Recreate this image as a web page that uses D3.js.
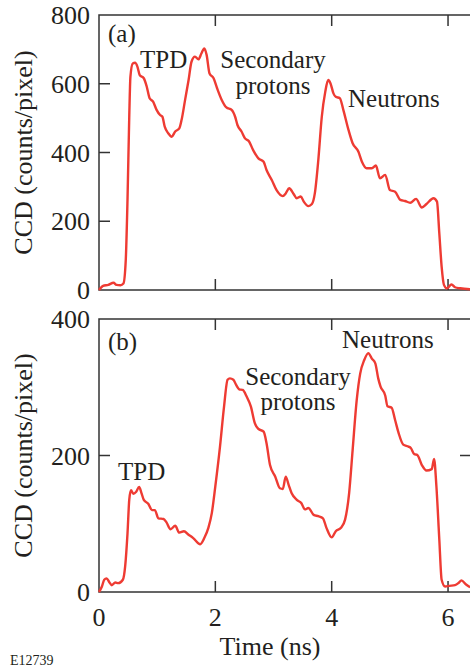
<!DOCTYPE html>
<html lang="en">
  <head>
    <meta charset="utf-8" />
    <title>CCD signal vs time</title>
    <script src="https://cdnjs.cloudflare.com/ajax/libs/d3/7.8.5/d3.min.js"></script>
    <style>
      body {
        margin: 0;
        background: #ffffff;
      }
      svg text {
        font-family: "Liberation Serif", "DejaVu Serif", "Times New Roman", Times, serif;
        fill: #231f20;
      }
      .frame {
        fill: none;
        stroke: #333;
        stroke-width: 1.5px;
      }
      .tick-line {
        stroke: #333;
        stroke-width: 1.5px;
      }
      .trace {
        fill: none;
        stroke: #ee3b33;
        stroke-width: 2.4px;
        stroke-linejoin: round;
      }
    </style>
  </head>
  <body>
    <div id="chart"></div>
    <script>
      // panel (a)
      const timeA = [0, 0.07, 0.16, 0.25, 0.3, 0.37, 0.42, 0.46, 0.49, 0.52, 0.54, 0.58, 0.62, 0.66, 0.7, 0.77, 0.82, 0.87, 0.93, 0.99, 1.05, 1.09, 1.13, 1.19, 1.25, 1.31, 1.38, 1.42, 1.48, 1.54, 1.59, 1.65, 1.71, 1.76, 1.81, 1.85, 1.9, 1.97, 2.03, 2.11, 2.19, 2.28, 2.34, 2.38, 2.45, 2.51, 2.58, 2.65, 2.74, 2.83, 2.88, 2.97, 3.05, 3.16, 3.21, 3.27, 3.34, 3.4, 3.47, 3.52, 3.6, 3.66, 3.71, 3.77, 3.83, 3.89, 3.94, 3.98, 4.03, 4.07, 4.14, 4.2, 4.29, 4.36, 4.46, 4.52, 4.6, 4.69, 4.76, 4.83, 4.92, 5.0, 5.09, 5.18, 5.26, 5.35, 5.45, 5.55, 5.63, 5.75, 5.81, 5.85, 5.89, 5.93, 5.98, 6.06, 6.12, 6.21, 6.38];
      const countsA = [0, 12, 15, 21, 15, 14, 19, 87, 262, 504, 620, 659, 661, 650, 625, 616, 592, 558, 548, 524, 509, 504, 475, 456, 446, 461, 470, 495, 553, 611, 664, 679, 671, 688, 703, 684, 630, 616, 587, 553, 531, 524, 504, 480, 461, 441, 432, 407, 383, 373, 349, 320, 291, 273, 281, 296, 281, 267, 272, 257, 244, 250, 281, 378, 504, 577, 611, 601, 572, 562, 558, 524, 465, 427, 402, 373, 354, 354, 362, 325, 335, 291, 286, 262, 259, 254, 265, 240, 250, 267, 257, 165, 68, 15, 5, 16, 8, 5, 2];

      // panel (b)
      const timeB = [0, 0.05, 0.09, 0.13, 0.18, 0.22, 0.28, 0.33, 0.41, 0.45, 0.49, 0.52, 0.55, 0.59, 0.64, 0.69, 0.73, 0.77, 0.85, 0.91, 0.96, 1.02, 1.11, 1.16, 1.23, 1.31, 1.38, 1.46, 1.54, 1.62, 1.74, 1.81, 1.88, 1.94, 2.0, 2.08, 2.15, 2.21, 2.25, 2.31, 2.36, 2.41, 2.47, 2.54, 2.61, 2.68, 2.74, 2.83, 2.88, 2.94, 3.03, 3.11, 3.16, 3.21, 3.26, 3.31, 3.4, 3.48, 3.54, 3.6, 3.69, 3.77, 3.85, 3.91, 4.0, 4.07, 4.16, 4.23, 4.3, 4.36, 4.43, 4.49, 4.56, 4.63, 4.69, 4.75, 4.8, 4.84, 4.92, 4.96, 5.03, 5.09, 5.15, 5.23, 5.32, 5.36, 5.42, 5.47, 5.55, 5.63, 5.72, 5.76, 5.8, 5.85, 5.89, 5.95, 6.02, 6.12, 6.19, 6.23, 6.31, 6.38];
      const countsB = [0, 8, 18, 20, 14, 10, 14, 13, 18, 38, 86, 135, 149, 144, 147, 154, 145, 135, 129, 120, 120, 108, 107, 102, 92, 97, 87, 89, 84, 79, 70, 79, 94, 116, 155, 213, 272, 311, 313, 311, 303, 297, 296, 286, 272, 247, 239, 235, 218, 186, 169, 152, 151, 169, 157, 145, 135, 130, 121, 123, 113, 111, 108, 94, 80, 89, 94, 106, 145, 208, 281, 320, 340, 350, 342, 335, 313, 301, 288, 272, 270, 252, 233, 216, 213, 211, 202, 201, 186, 178, 180, 195, 155, 77, 18, 8, 9, 10, 14, 17, 11, 7];

      const timeTicks = [0, 2, 4, 6];
      const ticksA = [0, 200, 400, 600, 800];
      const ticksB = [0, 200, 400];

      const width = 470;
      const height = 667;
      const serif = '"Liberation Serif", "DejaVu Serif", "Times New Roman", Times, serif';

      const svg = d3
        .select("#chart")
        .append("svg")
        .attr("width", width)
        .attr("height", height)
        .attr("font-family", serif);

      const x = d3.scaleLinear().domain([0, 6.4]).range([99, 471.3]);

      function addText(parent, txt, px, py, size, anchor) {
        return parent
          .append("text")
          .attr("x", px)
          .attr("y", py)
          .attr("text-anchor", anchor || "start")
          .style("font-family", serif)
          .style("font-size", size + "px")
          .text(txt);
      }

      function drawPanel(opts) {
        const y = d3.scaleLinear().domain(opts.domain).range([opts.bottom, opts.top]);
        const g = svg.append("g");

        // tick marks inside the frame
        g.selectAll(".ytick")
          .data(opts.yTicks.slice(1, -1))
          .enter()
          .append("line")
          .attr("class", "tick-line")
          .attr("x1", x(0))
          .attr("x2", x(0) + 11)
          .attr("y1", (d) => y(d))
          .attr("y2", (d) => y(d));

        if (opts.rightTicks) {
          g.selectAll(".rtick")
            .data(opts.yTicks.slice(1, -1))
            .enter()
            .append("line")
            .attr("class", "tick-line")
            .attr("x1", 471)
            .attr("x2", 460)
            .attr("y1", (d) => y(d))
            .attr("y2", (d) => y(d));
        }

        g.selectAll(".btick")
          .data(timeTicks.slice(1))
          .enter()
          .append("line")
          .attr("class", "tick-line")
          .attr("x1", (d) => x(d))
          .attr("x2", (d) => x(d))
          .attr("y1", opts.bottom)
          .attr("y2", opts.bottom - 11);

        g.selectAll(".ttick")
          .data(timeTicks.slice(1))
          .enter()
          .append("line")
          .attr("class", "tick-line")
          .attr("x1", (d) => x(d))
          .attr("x2", (d) => x(d))
          .attr("y1", opts.top)
          .attr("y2", opts.top + 11);

        // frame
        g.append("rect")
          .attr("class", "frame")
          .attr("x", x(0))
          .attr("y", opts.top)
          .attr("width", x(6.4) - x(0))
          .attr("height", opts.bottom - opts.top);

        // y tick labels
        opts.yTicks.forEach((d) => addText(g, d, 90, y(d) + 9, 26, "end"));

        // y title
        addText(g, "CCD (counts/pixel)", 0, 0, 26, "middle").attr(
          "transform",
          `translate(32,${(opts.top + opts.bottom) / 2}) rotate(-90)`
        );

        // trace
        const pts = opts.t.map((t, i) => [t, opts.v[i]]);
        const line = d3
          .line()
          .x((d) => x(d[0]))
          .y((d) => y(d[1]))
          .curve(d3.curveMonotoneX);

        g.append("path").attr("class", "trace").attr("d", line(pts));

        // annotations
        opts.notes.forEach((n) => addText(g, n.text, n.x, n.y, 25, n.anchor));
      }

      drawPanel({
        top: 15,
        bottom: 290,
        domain: [0, 800],
        yTicks: ticksA,
        t: timeA,
        v: countsA,
        rightTicks: false,
        notes: [
          { text: "(a)", x: 108, y: 42 },
          { text: "TPD", x: 140, y: 68 },
          { text: "Secondary", x: 273, y: 68, anchor: "middle" },
          { text: "protons", x: 273, y: 94, anchor: "middle" },
          { text: "Neutrons", x: 348, y: 107 },
        ],
      });

      drawPanel({
        top: 319,
        bottom: 592,
        domain: [0, 400],
        yTicks: ticksB,
        t: timeB,
        v: countsB,
        rightTicks: true,
        notes: [
          { text: "(b)", x: 108, y: 350 },
          { text: "TPD", x: 118, y: 480 },
          { text: "Secondary", x: 298, y: 385, anchor: "middle" },
          { text: "protons", x: 298, y: 410, anchor: "middle" },
          { text: "Neutrons", x: 342, y: 348 },
        ],
      });

      // x tick labels and title
      timeTicks.forEach((d) => addText(svg, d, x(d), 626, 26, "middle"));
      addText(svg, "Time (ns)", 270, 655, 26, "middle");
      addText(svg, "E12739", 10, 665, 14);
    </script>
  </body>
</html>
